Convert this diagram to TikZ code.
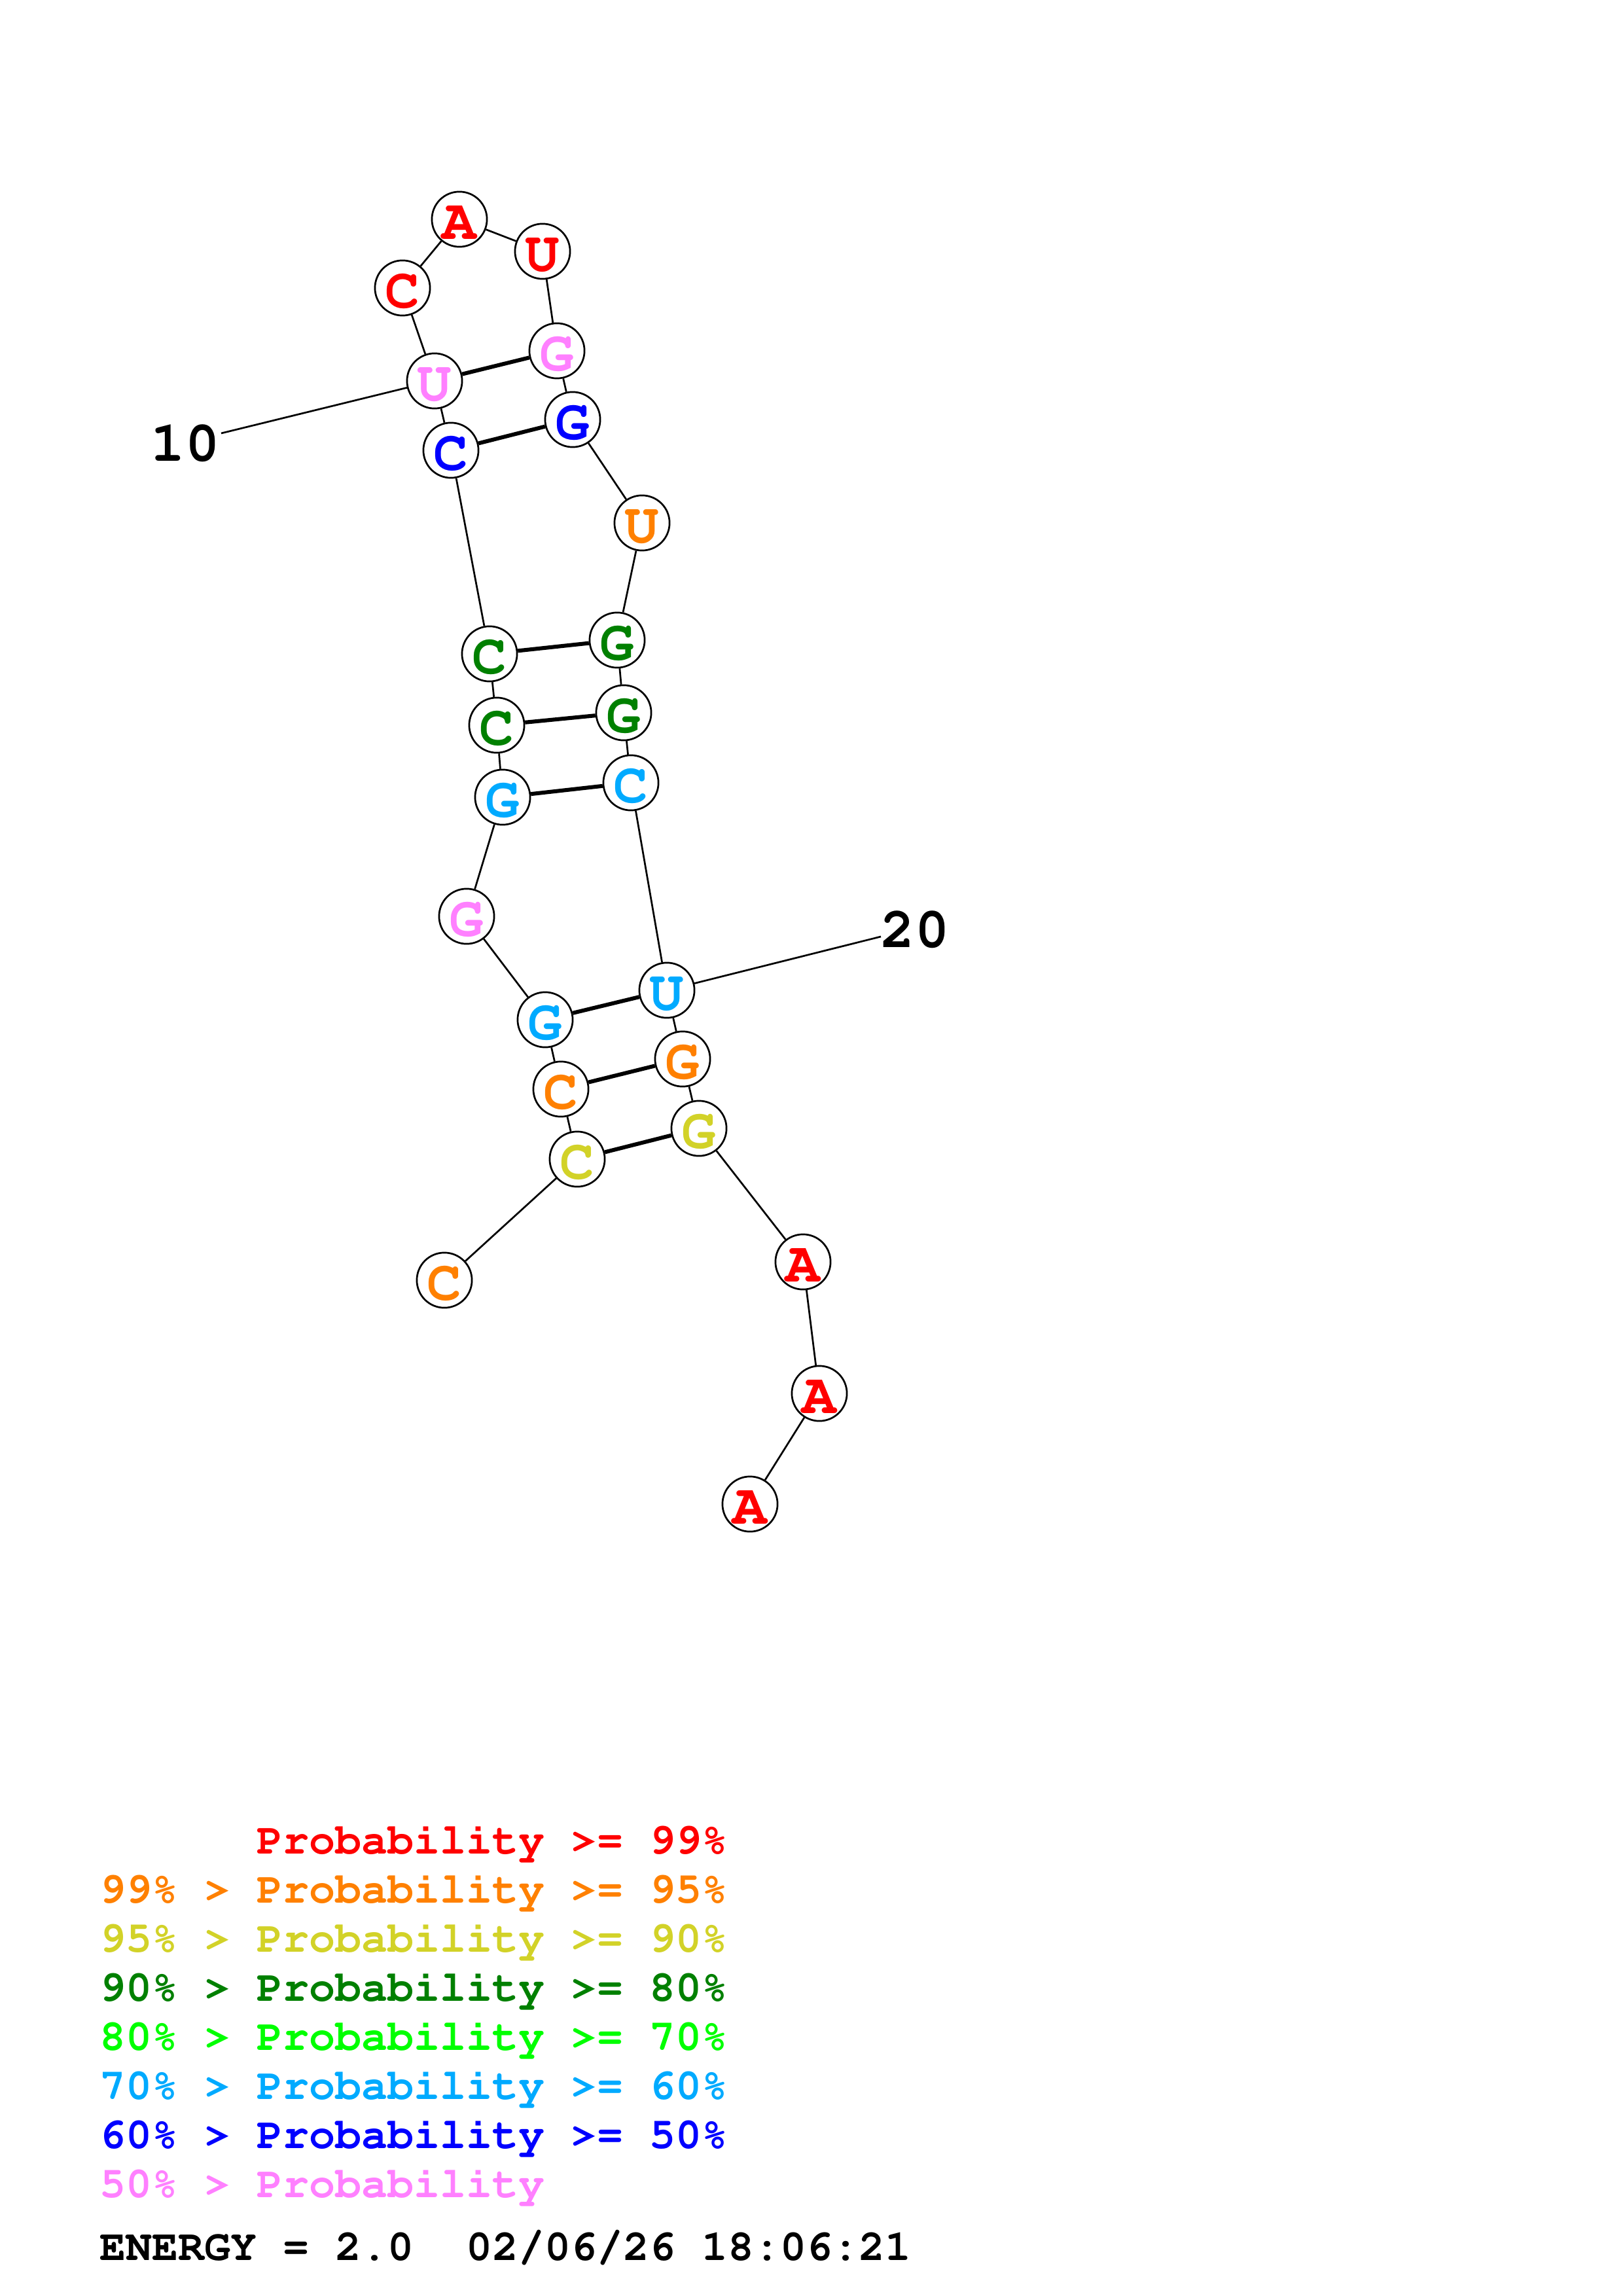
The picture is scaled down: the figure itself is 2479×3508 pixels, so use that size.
\documentclass[tikz,border=0pt]{standalone}
\usepackage[T1]{fontenc}
\newcommand\courb{\fontfamily{pcr}\fontseries{b}\selectfont}
\definecolor{pr}{RGB}{255,0,0}
\definecolor{po}{RGB}{255,128,0}
\definecolor{py}{RGB}{210,210,40}
\definecolor{pdg}{RGB}{0,128,0}
\definecolor{pg}{RGB}{0,255,0}
\definecolor{plb}{RGB}{0,170,255}
\definecolor{pb}{RGB}{0,0,255}
\definecolor{pp}{RGB}{255,128,255}
\begin{document}
\begin{tikzpicture}[x=0.24pt,y=-0.24pt,
  nt/.style={circle,draw=black,fill=white,line width=0.65pt,minimum size=20.2pt,inner sep=0pt,
    text height=14.5pt,text depth=0pt,
    font=\courb\fontsize{21}{21}\selectfont},
  bb/.style={line width=0.65pt,draw=black},
  bp/.style={line width=1.45pt,draw=black},
  num/.style={inner sep=0pt,font=\courb\fontsize{21}{21}\selectfont},
  lg/.style={anchor=base west,inner sep=0pt,font=\courb\fontsize{16}{16}\selectfont}]
\useasboundingbox (0,0) rectangle (2479,3508);
% nucleotides
\node[nt,text=po]  (n1)  at (679,1956) {C};
\node[nt,text=py]  (n2)  at (882,1771) {C};
\node[nt,text=po]  (n3)  at (857,1664) {C};
\node[nt,text=plb] (n4)  at (833,1558) {G};
\node[nt,text=pp]  (n5)  at (713,1400) {G};
\node[nt,text=plb] (n6)  at (768,1218) {G};
\node[nt,text=pdg] (n7)  at (759,1108) {C};
\node[nt,text=pdg] (n8)  at (748,999)  {C};
\node[nt,text=pb]  (n9)  at (689,688)  {C};
\node[nt,text=pp]  (n10) at (664,582)  {U};
\node[nt,text=pr]  (n11) at (615,440)  {C};
\node[nt,text=pr]  (n12) at (702,335)  {A};
\node[nt,text=pr]  (n13) at (829,384)  {U};
\node[nt,text=pp]  (n14) at (851,536)  {G};
\node[nt,text=pb]  (n15) at (875,641)  {G};
\node[nt,text=po]  (n16) at (981,799)  {U};
\node[nt,text=pdg] (n17) at (943,978)  {G};
\node[nt,text=pdg] (n18) at (953,1089) {G};
\node[nt,text=plb] (n19) at (964,1196) {C};
\node[nt,text=plb] (n20) at (1019,1513) {U};
\node[nt,text=po]  (n21) at (1043,1618) {G};
\node[nt,text=py]  (n22) at (1068,1724) {G};
\node[nt,text=pr]  (n23) at (1227,1928) {A};
\node[nt,text=pr]  (n24) at (1252,2129) {A};
\node[nt,text=pr]  (n25) at (1146,2298) {A};
% backbone
\foreach \a/\b in {1/2,2/3,3/4,4/5,5/6,6/7,7/8,8/9,9/10,10/11,11/12,12/13,13/14,14/15,15/16,16/17,17/18,18/19,19/20,20/21,21/22,22/23,23/24,24/25}
  \draw[bb] (n\a) -- (n\b);
% pairs
\foreach \a/\b in {10/14,9/15,8/17,7/18,6/19,4/20,3/21,2/22}
  \draw[bp] (n\a) -- (n\b);
% numbering
\node[num] (l10) at (283,678) {10};
\coordinate (c10) at (338,662);
\draw[bb] (n10) -- (c10);
\node[num] (l20) at (1398,1421) {20};
\coordinate (c20) at (1346,1431);
\draw[bb] (n20) -- (c20);
% legend
\node[lg,text=pr] (r1c) at (392,2832) {Probability};
\node[lg,text=pr] (r1d) at (872,2832) {>=};
\node[lg,text=pr] (r1e) at (992,2832) {99\%};
\node[lg,text=po] (r2a) at (152,2907) {99\%};
\node[lg,text=po] (r2b) at (312,2907) {>};
\node[lg,text=po] (r2c) at (392,2907) {Probability};
\node[lg,text=po] (r2d) at (872,2907) {>=};
\node[lg,text=po] (r2e) at (992,2907) {95\%};
\node[lg,text=py] (r3a) at (152,2982) {95\%};
\node[lg,text=py] (r3b) at (312,2982) {>};
\node[lg,text=py] (r3c) at (392,2982) {Probability};
\node[lg,text=py] (r3d) at (872,2982) {>=};
\node[lg,text=py] (r3e) at (992,2982) {90\%};
\node[lg,text=pdg] (r4a) at (152,3057) {90\%};
\node[lg,text=pdg] (r4b) at (312,3057) {>};
\node[lg,text=pdg] (r4c) at (392,3057) {Probability};
\node[lg,text=pdg] (r4d) at (872,3057) {>=};
\node[lg,text=pdg] (r4e) at (992,3057) {80\%};
\node[lg,text=pg] (r5a) at (152,3132) {80\%};
\node[lg,text=pg] (r5b) at (312,3132) {>};
\node[lg,text=pg] (r5c) at (392,3132) {Probability};
\node[lg,text=pg] (r5d) at (872,3132) {>=};
\node[lg,text=pg] (r5e) at (992,3132) {70\%};
\node[lg,text=plb] (r6a) at (152,3207) {70\%};
\node[lg,text=plb] (r6b) at (312,3207) {>};
\node[lg,text=plb] (r6c) at (392,3207) {Probability};
\node[lg,text=plb] (r6d) at (872,3207) {>=};
\node[lg,text=plb] (r6e) at (992,3207) {60\%};
\node[lg,text=pb] (r7a) at (152,3282) {60\%};
\node[lg,text=pb] (r7b) at (312,3282) {>};
\node[lg,text=pb] (r7c) at (392,3282) {Probability};
\node[lg,text=pb] (r7d) at (872,3282) {>=};
\node[lg,text=pb] (r7e) at (992,3282) {50\%};
\node[lg,text=pp] (r8a) at (152,3357) {50\%};
\node[lg,text=pp] (r8b) at (312,3357) {>};
\node[lg,text=pp] (r8c) at (392,3357) {Probability};
\node[lg,text=black] (e1) at (152,3453) {ENERGY};
\node[lg,text=black] (e2) at (432,3453) {=};
\node[lg,text=black] (e3) at (512,3453) {2.0};
\node[lg,text=black] (e4) at (712,3453) {02/06/26};
\node[lg,text=black] (e5) at (1072,3453) {18:06:21};
\end{tikzpicture}
\end{document}
